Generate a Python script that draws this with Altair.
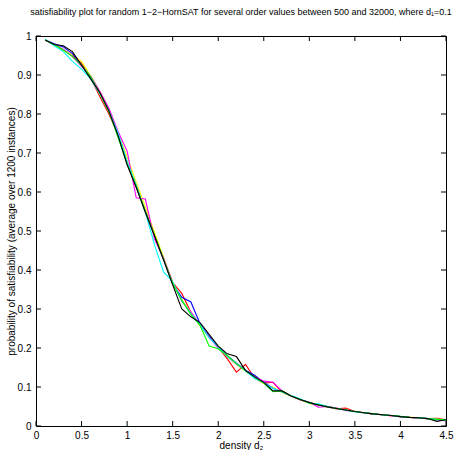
import altair as alt
import pandas as pd

density = [0.1, 0.2, 0.3, 0.4, 0.5, 0.6, 0.7, 0.8, 0.9, 1.0,
           1.1, 1.2, 1.3, 1.4, 1.5, 1.6, 1.7, 1.8, 1.9, 2.0,
           2.1, 2.2, 2.3, 2.4, 2.5, 2.6, 2.7, 2.8, 2.9, 3.0,
           3.1, 3.2, 3.3, 3.4, 3.5, 3.6, 3.7, 3.8, 3.9, 4.0,
           4.1, 4.2, 4.3, 4.4, 4.5]

s_red = [0.990, 0.978, 0.965, 0.950, 0.930, 0.893, 0.845, 0.800, 0.748, 0.672,
         0.612, 0.552, 0.492, 0.430, 0.368, 0.340, 0.292, 0.258, 0.228, 0.202,
         0.172, 0.138, 0.158, 0.122, 0.110, 0.112, 0.088, 0.077, 0.067, 0.060,
         0.055, 0.049, 0.044, 0.046, 0.037, 0.034, 0.030, 0.029, 0.027, 0.024,
         0.022, 0.020, 0.019, 0.020, 0.016]
s_yellow = [0.990, 0.976, 0.962, 0.952, 0.935, 0.898, 0.858, 0.812, 0.752, 0.690,
            0.625, 0.562, 0.497, 0.432, 0.364, 0.325, 0.290, 0.258, 0.226, 0.205,
            0.178, 0.158, 0.140, 0.125, 0.108, 0.100, 0.086, 0.076, 0.068, 0.057,
            0.054, 0.050, 0.046, 0.041, 0.038, 0.034, 0.032, 0.029, 0.026, 0.024,
            0.023, 0.021, 0.019, 0.018, 0.014]
s_blue = [0.990, 0.980, 0.972, 0.955, 0.925, 0.895, 0.855, 0.808, 0.750, 0.676,
          0.616, 0.550, 0.488, 0.426, 0.364, 0.330, 0.318, 0.262, 0.230, 0.203,
          0.180, 0.161, 0.143, 0.130, 0.112, 0.097, 0.088, 0.077, 0.068, 0.060,
          0.054, 0.050, 0.045, 0.041, 0.037, 0.034, 0.031, 0.029, 0.027, 0.024,
          0.022, 0.021, 0.019, 0.016, 0.015]
s_magenta = [0.990, 0.977, 0.966, 0.947, 0.922, 0.897, 0.858, 0.815, 0.756, 0.705,
             0.585, 0.582, 0.480, 0.430, 0.368, 0.320, 0.292, 0.260, 0.228, 0.200,
             0.178, 0.159, 0.142, 0.126, 0.115, 0.112, 0.090, 0.077, 0.068, 0.061,
             0.048, 0.050, 0.046, 0.040, 0.037, 0.034, 0.031, 0.029, 0.026, 0.024,
             0.022, 0.021, 0.019, 0.017, 0.013]
s_cyan = [0.992, 0.975, 0.960, 0.935, 0.915, 0.890, 0.852, 0.808, 0.752, 0.678,
          0.618, 0.548, 0.465, 0.395, 0.370, 0.322, 0.288, 0.260, 0.226, 0.203,
          0.178, 0.160, 0.141, 0.122, 0.111, 0.097, 0.087, 0.078, 0.070, 0.058,
          0.057, 0.050, 0.045, 0.041, 0.036, 0.034, 0.031, 0.029, 0.027, 0.024,
          0.022, 0.021, 0.019, 0.017, 0.015]
s_green = [0.990, 0.978, 0.964, 0.947, 0.925, 0.896, 0.853, 0.806, 0.740, 0.672,
           0.614, 0.550, 0.490, 0.428, 0.366, 0.322, 0.286, 0.258, 0.205, 0.198,
           0.180, 0.160, 0.142, 0.126, 0.110, 0.088, 0.090, 0.077, 0.068, 0.060,
           0.054, 0.049, 0.045, 0.041, 0.037, 0.034, 0.031, 0.029, 0.027, 0.025,
           0.022, 0.021, 0.019, 0.017, 0.015]
s_black = [0.990, 0.978, 0.975, 0.960, 0.925, 0.890, 0.855, 0.808, 0.745, 0.670,
           0.612, 0.548, 0.488, 0.426, 0.362, 0.300, 0.280, 0.265, 0.235, 0.205,
           0.185, 0.178, 0.142, 0.126, 0.112, 0.090, 0.090, 0.077, 0.068, 0.060,
           0.054, 0.049, 0.045, 0.041, 0.037, 0.034, 0.031, 0.029, 0.027, 0.024,
           0.022, 0.021, 0.019, 0.012, 0.016]

series_names = ["n=500", "n=1000", "n=2000", "n=4000", "n=8000", "n=16000", "n=32000"]
series_vals = [s_red, s_yellow, s_blue, s_magenta, s_cyan, s_green, s_black]
series_colors = ["#ff0000", "#ffff00", "#0000ff", "#ff00ff", "#00ffff", "#00ff00", "#000000"]

x_ticks = [0, 0.5, 1, 1.5, 2, 2.5, 3, 3.5, 4, 4.5]
y_ticks = [0, 0.1, 0.2, 0.3, 0.4, 0.5, 0.6, 0.7, 0.8, 0.9, 1]

rows = []
for k, (name, vals) in enumerate(zip(series_names, series_vals)):
    for d, p in zip(density, vals):
        rows.append({"series": name, "k": k, "d": d, "p": p})
df = pd.DataFrame(rows)

FONT = "Liberation Sans"
W, H = 410, 390

xscale = alt.Scale(domain=[0, 4.5], nice=False, zero=False)
yscale = alt.Scale(domain=[0, 1], nice=False)

x_axis = alt.Axis(values=x_ticks, format="~g", tickSize=0, domain=False, grid=False,
                  labelPadding=4, labelFont=FONT, labelFontSize=10, labelColor="black",
                  labelOverlap=False,
                  title="density d\u2082", titleFont=FONT, titleFontSize=10,
                  titleFontWeight="normal", titleColor="black", titlePadding=0,
                  labelFlush=False)
y_axis = alt.Axis(values=y_ticks, format="~g", tickSize=0, domain=False, grid=False,
                  labelPadding=5, labelFont=FONT, labelFontSize=10, labelColor="black",
                  labelOverlap=False,
                  title="probability of satisfiability (average over 1200 instances)",
                  titleFont=FONT, titleFontSize=10, titleFontWeight="normal",
                  titleColor="black", titleAngle=270, titleX=-22, titleY=195,
                  titleAlign="center", titleBaseline="alphabetic", labelFlush=False)

lines = alt.Chart(df).mark_line(strokeWidth=1.1, clip=True).encode(
    x=alt.X("d:Q", scale=xscale, axis=x_axis),
    y=alt.Y("p:Q", scale=yscale, axis=y_axis),
    color=alt.Color("series:N", scale=alt.Scale(domain=series_names, range=series_colors),
                    legend=None),
    detail="k:O",
)

xt = pd.DataFrame({"d": x_ticks})
yt = pd.DataFrame({"p": y_ticks})

xtick_b = alt.Chart(xt).mark_rule(color="black", strokeWidth=1).encode(
    x=alt.X("d:Q", scale=xscale, axis=x_axis), y=alt.value(H), y2=alt.value(H - 5))
xtick_t = alt.Chart(xt).mark_rule(color="black", strokeWidth=1).encode(
    x=alt.X("d:Q", scale=xscale, axis=x_axis), y=alt.value(0), y2=alt.value(5))
ytick_l = alt.Chart(yt).mark_rule(color="black", strokeWidth=1).encode(
    y=alt.Y("p:Q", scale=yscale, axis=y_axis), x=alt.value(0), x2=alt.value(5))
ytick_r = alt.Chart(yt).mark_rule(color="black", strokeWidth=1).encode(
    y=alt.Y("p:Q", scale=yscale, axis=y_axis), x=alt.value(W), x2=alt.value(W - 5))

chart = alt.layer(lines, xtick_b, xtick_t, ytick_l, ytick_r).properties(
    width=W, height=H,
    title=alt.TitleParams(
        "satisfiability plot for random 1\u22122\u2212HornSAT for several order values between 500 and 32000, where d\u2081=0.1",
        font=FONT, fontSize=9, fontWeight="normal", color="black", anchor="middle", offset=14),
    autosize=alt.AutoSizeParams(type="none"),
    padding={"left": 36, "top": 36, "right": 10, "bottom": 24},
    background="white",
).configure_view(stroke="black", strokeWidth=1)

chart.save("out.html", embed_options={"renderer": "svg", "actions": False})
